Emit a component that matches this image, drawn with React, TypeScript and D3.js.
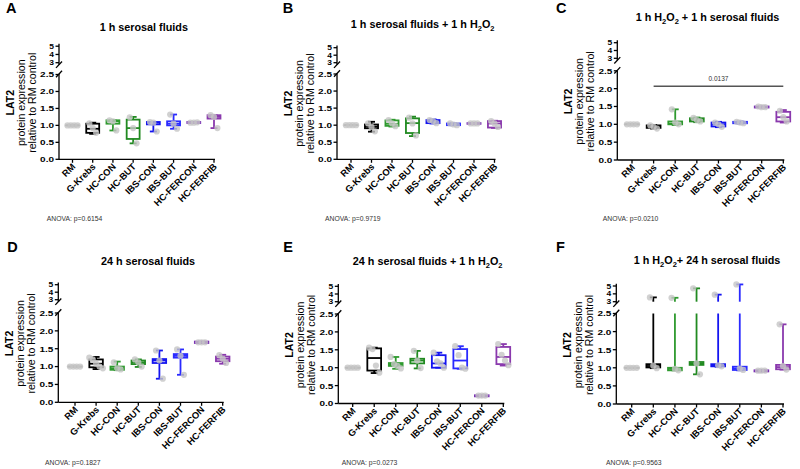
import * as d3 from "d3";

// ---- data ----
const categories = ["RM", "G-Krebs", "HC-CON", "HC-BUT", "IBS-CON", "IBS-BUT", "HC-FERCON", "HC-FERFIB"];
const groupColors = ["#9b9b9b", "#000000", "#2f9a2f", "#218a21", "#1414f0", "#2a2aff", "#7a2fb5", "#8a39ad"];

const panelLetters = ["A", "B", "C", "D", "E", "F"];
const panelTitles = [
  "1 h serosal fluids",
  "1 h serosal fluids + 1 h H2O2",
  "1 h H2O2 + 1 h serosal fluids",
  "24 h serosal fluids",
  "24 h serosal fluids + 1 h H2O2",
  "1 h H2O2+ 24 h serosal fluids",
];
const anovaLabels = [
  "ANOVA: p=0.6154",
  "ANOVA: p=0.9719",
  "ANOVA: p=0.0210",
  "ANOVA: p=0.1827",
  "ANOVA: p=0.0273",
  "ANOVA: p=0.9563",
];

const lowerTicks = [0, 0.5, 1, 1.5, 2, 2.5];
const upperTicks = [3, 4, 5];
const yLabelLines = ["LAT2", "protein expression", "relative to RM control"];

// [min, q1, median, q3, max] per category
const statsA = [
  [1, 1, 1, 1, 1], [0.75, 0.78, 0.9, 1.05, 1.08], [0.85, 1.05, 1.12, 1.15, 1.15], [0.47, 0.6, 0.92, 1.17, 1.25],
  [0.82, 1.03, 1.08, 1.1, 1.1], [0.9, 1.0, 1.05, 1.12, 1.32], [1.07, 1.07, 1.08, 1.1, 1.1], [0.92, 1.2, 1.25, 1.3, 1.3],
];
const statsB = [
  [1, 1, 1, 1, 1], [0.81, 0.91, 0.96, 1.02, 1.1], [0.96, 0.98, 1.04, 1.14, 1.16], [0.68, 0.77, 1.06, 1.2, 1.25],
  [1.05, 1.06, 1.1, 1.15, 1.17], [1.0, 1.0, 1.02, 1.05, 1.05], [1.04, 1.04, 1.05, 1.06, 1.06], [0.92, 0.93, 1.05, 1.12, 1.13],
];
const statsC = [
  [1, 1, 1, 1, 1], [0.88, 0.9, 0.93, 0.97, 0.98], [0.98, 1.0, 1.02, 1.08, 1.42], [1.06, 1.08, 1.12, 1.17, 1.19],
  [0.92, 0.94, 1.0, 1.05, 1.07], [1.02, 1.03, 1.05, 1.07, 1.08], [1.47, 1.47, 1.49, 1.5, 1.5], [1.05, 1.08, 1.2, 1.35, 1.4],
];
const statsD = [
  [1, 1, 1, 1, 1], [0.93, 0.98, 1.08, 1.2, 1.27], [0.9, 0.91, 0.95, 1.0, 1.14], [0.99, 1.07, 1.12, 1.17, 1.2],
  [0.66, 1.1, 1.17, 1.21, 1.45], [0.77, 1.25, 1.3, 1.35, 1.48], [1.66, 1.66, 1.68, 1.7, 1.7], [1.08, 1.15, 1.22, 1.28, 1.33],
];
const statsE = [
  [1, 1, 1, 1, 1], [0.85, 0.92, 1.27, 1.54, 1.56], [0.97, 1.05, 1.1, 1.13, 1.3], [0.98, 1.12, 1.2, 1.25, 1.47],
  [1.0, 1.0, 1.12, 1.35, 1.42], [0.97, 0.98, 1.2, 1.52, 1.6], [0.2, 0.2, 0.21, 0.23, 0.23], [1.06, 1.1, 1.3, 1.58, 1.66],
];
const statsF = [
  [1, 1, 1, 1, 1], [0.99, 1.01, 1.05, 1.1, 3.55], [0.93, 0.93, 0.97, 1.0, 3.5], [0.82, 1.08, 1.12, 1.16, 4.7],
  [1.03, 1.04, 1.07, 1.1, 3.9], [0.93, 0.94, 0.98, 1.03, 5.2], [0.9, 0.9, 0.92, 0.93, 0.93], [0.95, 0.96, 1.02, 1.08, 2.2],
];

// individual replicates (grey dots)
const pointsA = [
  [1, 1, 1, 1], [1.06, 0.92, 0.78], [1.15, 1.12, 0.85], [1.24, 0.92, 0.47],
  [1.1, 1.08, 0.82], [1.32, 1.05, 0.9], [1.08, 1.08, 1.09], [1.3, 1.25, 0.92],
];
const pointsB = [
  [1, 1, 1, 1], [1.05, 0.95, 0.82], [1.15, 1.05, 0.97], [1.22, 1.05, 0.7],
  [1.15, 1.12, 1.06], [1.05, 1.02, 1.0], [1.05, 1.05, 1.05], [1.12, 1.05, 0.95],
];
const pointsC = [
  [1, 1, 1, 1], [0.97, 0.93, 0.88], [1.42, 1.05, 1.0], [1.18, 1.12, 1.08],
  [1.05, 1.0, 0.93], [1.07, 1.05, 1.03], [1.5, 1.48, 1.48], [1.38, 1.2, 1.08],
];
const pointsD = [
  [1, 1, 1, 1], [1.25, 1.2, 1.08, 1.0, 0.95], [1.12, 0.95, 0.92], [1.2, 1.12, 1.0],
  [1.45, 1.17, 0.66], [1.48, 1.3, 0.77], [1.68, 1.68, 1.68], [1.32, 1.22, 1.1],
];
const pointsE = [
  [1, 1, 1, 1], [1.56, 1.52, 1.06, 0.86], [1.3, 1.1, 1.05, 0.98], [1.47, 1.2, 0.99],
  [1.42, 1.18, 1.12, 1.0], [1.6, 1.35, 1.0, 0.97], [0.22, 0.22, 0.22], [1.66, 1.36, 1.2, 1.07],
];
const pointsF = [
  [1, 1, 1, 1], [3.55, 1.06, 0.99], [3.5, 0.97, 0.93], [4.7, 1.12, 0.82],
  [3.9, 1.07, 1.04], [5.2, 0.98, 0.94], [0.92, 0.92, 0.92], [2.2, 1.05, 0.95],
];

const panelStats = [statsA, statsB, statsC, statsD, statsE, statsF];
const panelPoints = [pointsA, pointsB, pointsC, pointsD, pointsE, pointsF];

// significance bar (panel C)
const sigBars = [{ panel: 2, from: "G-Krebs", to: "HC-FERFIB", value: 2.07, label: "0.0137" }];

// ---- layout ----
type Layout = {
  axisX: number; x0: number; x1: number;
  zeroY: number; y25: number; y3: number; y5: number;
  letter: [number, number]; title: [number, number]; anova: [number, number];
};
const layouts: Layout[] = [
  { axisX: 59, x0: 72.5, x1: 214, zeroY: 159.3, y25: 74.5, y3: 62.7, y5: 46.2, letter: [6, 12.7], title: [143.8, 30.7], anova: [46.7, 220.5] },
  { axisX: 337, x0: 351, x1: 494.5, zeroY: 159.3, y25: 74, y3: 62.7, y5: 47.7, letter: [282.7, 12.7], title: [422.7, 28.3], anova: [325, 220.5] },
  { axisX: 617.3, x0: 632, x1: 783.3, zeroY: 160, y25: 70.8, y3: 58.3, y5: 42.7, letter: [556, 12.7], title: [707.5, 21], anova: [602.7, 220.5] },
  { axisX: 58.3, x0: 75, x1: 222.7, zeroY: 402.3, y25: 313, y3: 299.7, y5: 284.7, letter: [7.3, 252.3], title: [148, 264.7], anova: [45, 465] },
  { axisX: 338.3, x0: 352.7, x1: 503.3, zeroY: 403.5, y25: 314, y3: 301.7, y5: 286.3, letter: [283.3, 252.3], title: [427.7, 264.7], anova: [341.7, 465] },
  { axisX: 616.3, x0: 631.7, x1: 783, zeroY: 404, y25: 313.5, y3: 301.7, y5: 286, letter: [556, 252.3], title: [707, 264], anova: [606, 465] },
];

const FONT = "'Liberation Sans', Arial, Helvetica, sans-serif";
const SW = 1.8;

function Title({ text, x, y }: { text: string; x: number; y: number }) {
  // split "H2O2" into subscripted pieces
  const segs: { t: string; sub: boolean }[] = [];
  text.split("H2O2").forEach((p, i) => {
    if (i > 0) segs.push({ t: "H", sub: false }, { t: "2", sub: true }, { t: "O", sub: false }, { t: "2", sub: true });
    if (p) segs.push({ t: p, sub: false });
  });
  let shift = 0;
  return (
    <text x={x} y={y} textAnchor="middle" fontFamily={FONT} fontWeight="bold" fontSize={10.8} fill="#000">
      {segs.map((s, i) => {
        const target = s.sub ? 2.8 : 0;
        const dy = target - shift;
        shift = target;
        return (
          <tspan key={i} dy={dy} fontSize={s.sub ? 7.5 : 10.8} style={{ whiteSpace: "pre" }}>
            {s.t}
          </tspan>
        );
      })}
    </text>
  );
}

function Panel({ idx }: { idx: number }) {
  const lay = layouts[idx];
  const stats = panelStats[idx];
  const pts = panelPoints[idx];

  const x = d3.scalePoint<string>().domain(categories).range([lay.x0, lay.x1]);
  const yLo = d3.scaleLinear().domain([0, 2.5]).range([lay.zeroY, lay.y25]);
  const yHi = d3.scaleLinear().domain([3, 5]).range([lay.y3, lay.y5]);
  const y = (v: number) => (v > 2.75 ? yHi(v) : yLo(v));

  const step = x.step();
  const bw = step * 0.64;
  const cw = 7;
  const ax = lay.axisX;
  const upTop = yHi(5.3);
  const upBottom = yHi(3) + 2;
  const loTop = yLo(2.5) - 0.5;
  const labelCy = (lay.zeroY + lay.y5) / 2;
  const yLabOffsets = [-45.5, -34, -23.5];

  return (
    <g>
      <text x={lay.letter[0]} y={lay.letter[1]} fontFamily={FONT} fontWeight="bold" fontSize={14.5}>
        {panelLetters[idx]}
      </text>
      <Title text={panelTitles[idx]} x={lay.title[0]} y={lay.title[1]} />

      {/* y label */}
      {yLabelLines.map((t, i) => (
        <text
          key={t}
          transform={`translate(${ax + yLabOffsets[i]},${labelCy}) rotate(-90)`}
          textAnchor="middle"
          fontFamily={FONT}
          fontWeight={i === 0 ? "bold" : "normal"}
          fontSize={10.6}
        >
          {t}
        </text>
      ))}

      {/* broken y axis */}
      <g stroke="#000" strokeWidth={1.3} fill="none">
        <line x1={ax} x2={ax} y1={lay.zeroY} y2={loTop} />
        <line x1={ax} x2={ax} y1={upBottom} y2={upTop} />
        <line x1={ax - 3} x2={ax + 3} y1={loTop + 3.2} y2={loTop - 3.2} />
        <line x1={ax - 3} x2={ax + 3} y1={upBottom + 3.2} y2={upBottom - 3.2} />
        {lowerTicks.map((t) => (
          <line key={t} x1={ax - 3.5} x2={ax} y1={yLo(t)} y2={yLo(t)} />
        ))}
        {upperTicks.map((t) => (
          <line key={t} x1={ax - 3.5} x2={ax} y1={yHi(t)} y2={yHi(t)} />
        ))}
        <line x1={ax} x2={lay.x1 + 1} y1={lay.zeroY} y2={lay.zeroY} />
        {categories.map((c) => (
          <line key={c} x1={x(c)!} x2={x(c)!} y1={lay.zeroY} y2={lay.zeroY + 3.5} />
        ))}
      </g>
      <g fontFamily={FONT} fontWeight="bold" textAnchor="end">
        {lowerTicks.map((t) => (
          <text key={t} transform={`translate(${ax - 5},${yLo(t) + 2.9}) scale(1.25,1)`} fontSize={8}>
            {d3.format(".1f")(t)}
          </text>
        ))}
        {upperTicks.map((t) => (
          <text key={t} transform={`translate(${ax - 5},${yHi(t) + 2.5}) scale(1.25,1)`} fontSize={6.8}>
            {t}
          </text>
        ))}
      </g>

      {/* x tick labels */}
      <g fontFamily={FONT} fontWeight="bold" fontSize={9.3} textAnchor="end">
        {categories.map((c) => (
          <text key={c} transform={`translate(${x(c)! + 3.5},${lay.zeroY + 8}) rotate(-45)`}>
            {c}
          </text>
        ))}
      </g>

      {/* box plots */}
      {categories.map((c, i) => {
        const [mn, q1, md, q3, mx] = stats[i];
        const cx = x(c)!;
        const col = groupColors[i];
        const upperWhisker =
          mx > 2.75 ? (
            <>
              <line x1={cx} x2={cx} y1={yLo(q3)} y2={yLo(2.5)} />
              <line x1={cx} x2={cx} y1={yHi(3)} y2={yHi(mx)} />
            </>
          ) : (
            <line x1={cx} x2={cx} y1={y(q3)} y2={y(mx)} />
          );
        return (
          <g key={c} stroke={col} strokeWidth={SW} fill="none">
            <line x1={cx} x2={cx} y1={y(mn)} y2={y(q1)} />
            {upperWhisker}
            <line x1={cx - cw / 2} x2={cx + cw / 2} y1={y(mn)} y2={y(mn)} />
            <line x1={cx - cw / 2} x2={cx + cw / 2} y1={y(mx)} y2={y(mx)} />
            <rect x={cx - bw / 2} width={bw} y={y(q3)} height={Math.max(0.01, y(q1) - y(q3))} />
            <line x1={cx - bw / 2} x2={cx + bw / 2} y1={y(md)} y2={y(md)} />
          </g>
        );
      })}

      {/* replicate dots */}
      {categories.map((c, i) => {
        const vals = pts[i];
        const cx = x(c)!;
        return (
          <g key={c} fill="#c6c6c6" fillOpacity={0.8}>
            {vals.map((v, j) => (
              <circle key={j} cx={cx + (j - (vals.length - 1) / 2) * 3.4} cy={y(v)} r={3.1} />
            ))}
          </g>
        );
      })}

      {/* significance */}
      {sigBars
        .filter((s) => s.panel === idx)
        .map((s) => (
          <g key={s.label}>
            <line x1={x(s.from)!} x2={x(s.to)!} y1={y(s.value)} y2={y(s.value)} stroke="#555" strokeWidth={1.5} />
            <text
              x={(x(s.from)! + x(s.to)!) / 2}
              y={y(s.value) - 5}
              textAnchor="middle"
              fontFamily={FONT}
              fontSize={6.5}
              fill="#333"
            >
              {s.label}
            </text>
          </g>
        ))}

      <text x={lay.anova[0]} y={lay.anova[1]} fontFamily={FONT} fontSize={6.8} fill="#333">
        {anovaLabels[idx]}
      </text>
    </g>
  );
}

export default function App() {
  return (
    <svg
      width={800}
      height={469}
      viewBox="0 0 800 469"
      style={{ position: "absolute", left: 0, top: 0, background: "#fff" }}
    >
      <rect width={800} height={469} fill="#fff" />
      {layouts.map((_, i) => (
        <Panel key={i} idx={i} />
      ))}
    </svg>
  );
}
